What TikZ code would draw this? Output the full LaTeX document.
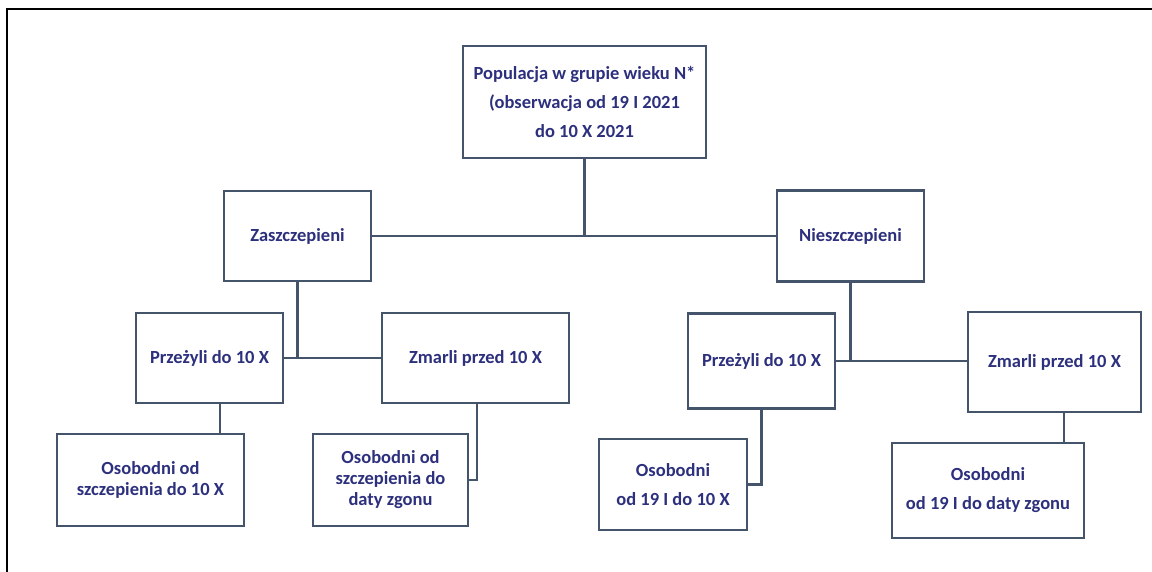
\documentclass[tikz,border=0pt]{standalone}
\usepackage{fontspec}
\setmainfont{Carlito}
\usepackage{tikz}
\usetikzlibrary{calc,positioning}
\definecolor{boxline}{RGB}{68,84,106}
\definecolor{boxtext}{RGB}{45,48,125}
\tikzstyle{box}   = [rectangle, draw=boxline, line width=2.5pt, fill=white, inner sep=0pt, align=center, text=boxtext, font=\fontsize{18.5}{21}\selectfont\bfseries]
\tikzstyle{wide}  = [font=\fontsize{18.5}{29}\selectfont\bfseries]
\tikzstyle{link}  = [draw=boxline, line width=2.5pt]

\begin{document}
\begin{tikzpicture}[x=1pt,y=-1pt]
        \useasboundingbox (0,0) rectangle (1152,572);
        \draw[line width=2pt] (1152,9) -- (7,9) -- (7,572);

        \node[box, wide, minimum width=243pt, minimum height=112pt] (pop) at (584.5,102) {Populacja w grupie wieku N*\\(obserwacja od 19 I 2021\\do 10 X 2021};
        \node[box, minimum width=147pt, minimum height=90pt] (zasz) at (297.5,236) {Zaszczepieni};
        \node[box, minimum width=147pt, minimum height=91pt] (niesz) at (850.5,236) {Nieszczepieni};

        \node[box, minimum width=147pt, minimum height=90pt] (przL) at (209.5,358) {Przeżyli do 10 X};
        \node[box, minimum width=187pt, minimum height=90pt] (zmaL) at (475.5,358) {Zmarli przed 10 X};
        \node[box, minimum width=147pt, minimum height=95pt] (przR) at (761.5,361) {Przeżyli do 10 X};
        \node[box, minimum width=173pt, minimum height=100pt] (zmaR) at (1054.5,362) {Zmarli przed 10 X};

        \node[box, minimum width=187pt, minimum height=92pt] (osoL1) at (150.5,480) {Osobodni od\\szczepienia do 10 X};
        \node[box, minimum width=155pt, minimum height=92pt] (osoL2) at (390.5,480) {Osobodni od\\szczepienia do\\daty zgonu};
        \node[box, wide, minimum width=148pt, minimum height=91pt] (osoR1) at (673,484.5) {Osobodni\\od 19 I do 10 X};
        \node[box, wide, minimum width=192pt, minimum height=95pt] (osoR2) at (988,490.5) {Osobodni\\od 19 I do daty zgonu};

        \draw[link] (pop.south) -- (pop.south |- zasz.east);
        \draw[link] (zasz.east) -- (niesz.west);
        \draw[link] (zasz.south) -- (zasz.south |- przL.east);
        \draw[link] (przL.east) -- (zmaL.west);
        \draw[link] (niesz.south) -- (niesz.south |- przR.east);
        \draw[link] (przR.east) -- (przR.east -| zmaR.west);
        \draw[link] ([xshift=10.5pt]przL.south) -- ([xshift=10.5pt]przL.south |- osoL1.north);
        \draw[link] ([xshift=1.5pt]zmaL.south) |- (osoL2.east);
        \draw[link] (przR.south) |- (osoR1.east);
        \draw[link] ([xshift=9.5pt]zmaR.south) -- ([xshift=9.5pt]zmaR.south |- osoR2.north);
\end{tikzpicture}
\end{document}
